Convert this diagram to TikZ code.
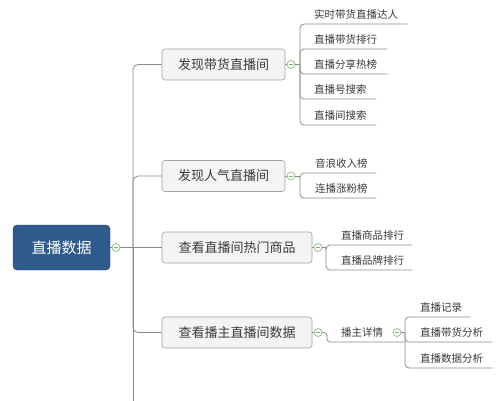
\documentclass[tikz,border=0pt]{standalone}
\usepackage{fontspec}
\setmainfont{Noto Sans CJK SC}
\definecolor{rootblue}{HTML}{2E5A8C}
\definecolor{boxfill}{HTML}{F4F4F4}
\definecolor{boxline}{HTML}{A0A0A0}
\definecolor{edgegray}{HTML}{8A8A8A}
\definecolor{txtgray}{HTML}{3A3A3A}
\definecolor{togglegreen}{HTML}{7DB46C}
\tikzset{
  rootbox/.style={draw=rootblue!80!black, fill=rootblue, rounded corners=4pt, text=white,
    font=\fontsize{15}{18}\selectfont, minimum width=97pt, minimum height=45pt, inner sep=0pt},
  topicbox/.style={draw=boxline, fill=boxfill, rounded corners=3pt, text=txtgray,
    font=\fontsize{13}{16}\selectfont, minimum height=31pt, inner sep=0pt, line width=0.6pt},
  leaf/.style={anchor=south west, inner xsep=0pt, inner ysep=5pt, text depth=0pt, align=left,
    font=\fontsize{10.5}{12}\selectfont, text=txtgray},
  edge/.style={draw=edgegray, line width=0.8pt},
  toggle/.style={circle, draw=togglegreen, fill=white, line width=0.6pt, minimum size=8pt, inner sep=0pt,
    path picture={\draw[togglegreen, line width=0.6pt]
      ([xshift=-2.2pt]path picture bounding box.center) -- ([xshift=2.2pt]path picture bounding box.center);}}
}
\begin{document}
\begin{tikzpicture}[x=1pt,y=-1pt]
\useasboundingbox (0,0) rectangle (500,401);
% root and topics
\node[rootbox] (root) at (61.5,247.5) {直播数据};
\node[topicbox, minimum width=123pt] (b1) at (223.5,64.5) {发现带货直播间};
\node[topicbox, minimum width=123pt] (b2) at (223.5,176) {发现人气直播间};
\node[topicbox, minimum width=150pt] (b3) at (237,247.5) {查看直播间热门商品};
\node[topicbox, minimum width=150pt] (b4) at (237,332.5) {查看播主直播间数据};
% toggles
\node[toggle] (c0) at (116,247.5) {};
\node[toggle] (c1) at (291,64.5) {};
\node[toggle] (c2) at (291,176) {};
\node[toggle] (c3) at (318,247.5) {};
\node[toggle] (c4) at (318,332.5) {};
% trunk
\coordinate (tk) at (133,247.5);
\coordinate (tb) at (133,402);
\draw[edge] (root.east) -- (c0.west);
\draw[edge] (c0.east) -- (b3.west);
\draw[edge, rounded corners=5pt] (tk) |- (b1.west);
\draw[edge, rounded corners=5pt] (tk) |- (b2.west);
\draw[edge, rounded corners=5pt] (tk) |- (b4.west);
\draw[edge] (tk) -- (tb);
% leaves of b1
\node[leaf, text width=107pt] (a1) at (300,24) {\hspace*{14pt}实时带货直播达人};
\node[leaf, text width=87pt] (a2) at (300,49) {\hspace*{14pt}直播带货排行};
\node[leaf, text width=87pt] (a3) at (300,74) {\hspace*{14pt}直播分享热榜};
\node[leaf, text width=76pt] (a4) at (300,99) {\hspace*{14pt}直播号搜索};
\node[leaf, text width=76pt] (a5) at (300,125) {\hspace*{14pt}直播间搜索};
\draw[edge] (b1.east) -- (c1.west);
\draw[edge] (c1.east) -- (c1.east -| a1.south west);
\foreach \n in {a1,a2,a3,a4,a5}
  \draw[edge, rounded corners=4pt] (c1.east -| a1.south west) |- (\n.south east);
% leaves of b2
\node[leaf, text width=76pt] (e1) at (300,173) {\hspace*{15pt}音浪收入榜};
\node[leaf, text width=76pt] (e2) at (300,198) {\hspace*{15pt}连播涨粉榜};
\draw[edge] (b2.east) -- (c2.west);
\draw[edge] (c2.east) -- (c2.east -| e1.south west);
\foreach \n in {e1,e2}
  \draw[edge, rounded corners=4pt] (c2.east -| e1.south west) |- (\n.south east);
% leaves of b3
\node[leaf, text width=86pt] (f1) at (326,245) {\hspace*{15pt}直播商品排行};
\node[leaf, text width=86pt] (f2) at (326,270) {\hspace*{15pt}直播品牌排行};
\draw[edge] (b3.east) -- (c3.west);
\draw[edge] (c3.east) -- (c3.east -| f1.south west);
\foreach \n in {f1,f2}
  \draw[edge, rounded corners=4pt] (c3.east -| f1.south west) |- (\n.south east);
% b4 -> 播主详情
\node[leaf, text width=78pt] (m) at (327,342) {\hspace*{14pt}播主详情};
\draw[edge] (b4.east) -- (c4.west);
\draw[edge, rounded corners=3pt] (c4.east) -| (m.south west) -- (m.south east);
\node[toggle] (c5) at (397,332.5) {};
% leaves of 播主详情
\node[leaf, text width=65pt] (d1) at (405,317) {\hspace*{15pt}直播记录};
\node[leaf, text width=87pt] (d2) at (405,342) {\hspace*{15pt}直播带货分析};
\node[leaf, text width=87pt] (d3) at (405,368) {\hspace*{15pt}直播数据分析};
\draw[edge] (c5.east) -- (c5.east -| d1.south west);
\foreach \n in {d1,d2,d3}
  \draw[edge, rounded corners=4pt] (c5.east -| d1.south west) |- (\n.south east);
\end{tikzpicture}
\end{document}
